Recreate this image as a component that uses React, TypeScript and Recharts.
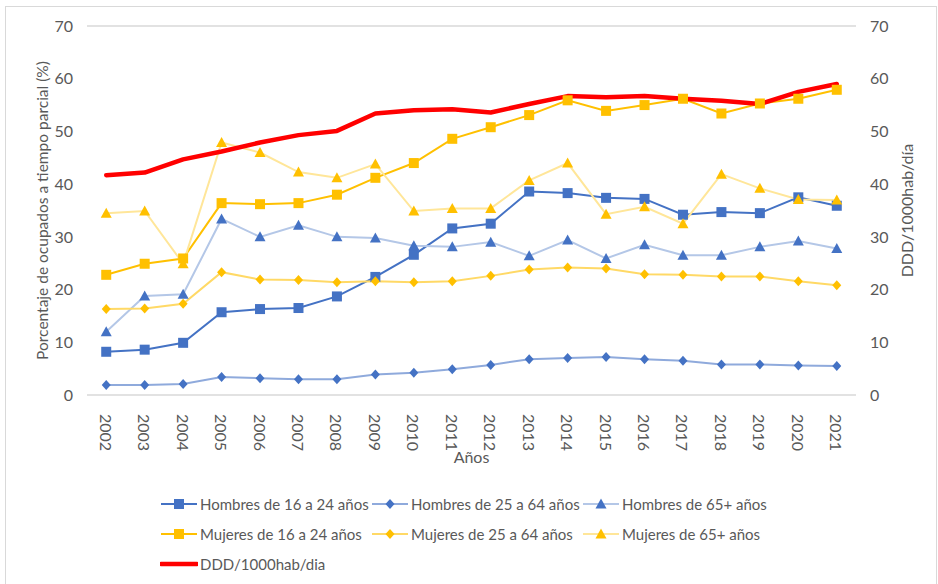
import React from 'react';
import { LineChart, Line, XAxis, YAxis, CartesianGrid, Legend, Label } from 'recharts';

const years = ['2002','2003','2004','2005','2006','2007','2008','2009','2010','2011','2012','2013','2014','2015','2016','2017','2018','2019','2020','2021'];
const hombres1624 = [8.2,8.6,9.9,15.7,16.3,16.5,18.7,22.4,26.6,31.6,32.5,38.6,38.3,37.4,37.2,34.2,34.7,34.5,37.5,35.9];
const hombres2564 = [1.9,1.9,2.1,3.4,3.2,3.0,3.0,3.9,4.2,4.9,5.7,6.8,7.0,7.2,6.8,6.5,5.8,5.8,5.6,5.5];
const hombres65 = [12.0,18.8,19.1,33.4,30.0,32.2,30.0,29.8,28.3,28.1,29.0,26.4,29.4,25.9,28.5,26.5,26.5,28.1,29.2,27.8];
const mujeres1624 = [22.8,24.9,25.9,36.4,36.2,36.4,38.0,41.2,44.0,48.6,50.8,53.1,55.9,53.9,55.0,56.2,53.4,55.3,56.2,57.9];
const mujeres2564 = [16.3,16.4,17.3,23.3,21.9,21.8,21.4,21.6,21.4,21.6,22.6,23.8,24.2,24.0,22.9,22.8,22.5,22.5,21.6,20.8];
const mujeres65 = [34.5,34.9,24.9,47.9,46.0,42.3,41.2,43.8,34.9,35.4,35.4,40.7,44.0,34.3,35.7,32.5,41.9,39.2,37.1,37.0];
const ddd = [41.7,42.2,44.7,46.2,47.9,49.3,50.1,53.4,54.0,54.2,53.6,55.2,56.7,56.5,56.7,56.2,55.8,55.2,57.5,59.0];
const yTicks = [0,10,20,30,40,50,60,70];

const data = years.map((y, i) => ({
  year: y,
  h1624: hombres1624[i],
  h2564: hombres2564[i],
  h65: hombres65[i],
  m1624: mujeres1624[i],
  m2564: mujeres2564[i],
  m65: mujeres65[i],
  ddd: ddd[i],
}));

const BLUE = '#4472C4';
const YELLOW = '#FFC000';
const TEXT = '#595959';
const FONT = 'Lato, "Open Sans", sans-serif';
const FS = 15;

type Shape = 'square' | 'diamond' | 'triangle' | 'none';

const markerEl = (shape: Shape, cx: number, cy: number, color: string, key?: any) => {
  if (shape === 'square') return <rect key={key} x={cx - 5} y={cy - 5} width={10} height={10} fill={color} />;
  if (shape === 'diamond') return <polygon key={key} points={`${cx},${cy - 5} ${cx + 4.5},${cy} ${cx},${cy + 5} ${cx - 4.5},${cy}`} fill={color} />;
  if (shape === 'triangle') return <polygon key={key} points={`${cx},${cy - 5.5} ${cx + 5.5},${cy + 4.5} ${cx - 5.5},${cy + 4.5}`} fill={color} />;
  return null;
};

const makeDot = (shape: Shape, color: string) => (props: any) => {
  const { cx, cy, index } = props;
  if (cx == null || cy == null) return <g key={index} />;
  return <g key={index}>{markerEl(shape, cx, cy, color)}</g>;
};

const series = [
  { key: 'h1624', name: 'Hombres de 16 a 24 años', line: BLUE, marker: BLUE, shape: 'square' as Shape, width: 2 },
  { key: 'h2564', name: 'Hombres de 25 a 64 años', line: '#8FAADC', marker: BLUE, shape: 'diamond' as Shape, width: 2 },
  { key: 'h65', name: 'Hombres de 65+ años', line: '#B4C7E7', marker: BLUE, shape: 'triangle' as Shape, width: 2 },
  { key: 'm1624', name: 'Mujeres de 16 a 24 años', line: YELLOW, marker: YELLOW, shape: 'square' as Shape, width: 2 },
  { key: 'm2564', name: 'Mujeres de 25 a 64 años', line: '#FFD966', marker: YELLOW, shape: 'diamond' as Shape, width: 2 },
  { key: 'm65', name: 'Mujeres de 65+ años', line: '#FFE699', marker: YELLOW, shape: 'triangle' as Shape, width: 2 },
];

const XTick = (props: any) => {
  const { x, y, payload } = props;
  return (
    <text transform={`translate(${x},${y + 11}) rotate(90)`} textAnchor="start" dominantBaseline="central"
      fill={TEXT} fontSize={FS + 1} fontFamily={FONT}>{payload.value}</text>
  );
};

const LegendContent = () => {
  const colX = [160, 371, 582];
  const rowY = [504, 534, 564];
  const items = [
    ...series.map((s, i) => ({ ...s, col: i % 3, row: Math.floor(i / 3), thick: false })),
    { key: 'ddd', name: 'DDD/1000hab/dia', line: '#FF0000', marker: '#FF0000', shape: 'none' as Shape, width: 4.5, col: 0, row: 2, thick: true },
  ];
  return (
    <div style={{ position: 'relative', width: 938, height: 584 }}>
      {items.map((it) => (
        <div key={it.key} style={{ position: 'absolute', left: colX[it.col], top: rowY[it.row] - 12, height: 24, display: 'flex', alignItems: 'center' }}>
          <svg width={38} height={24} style={{ display: 'block' }}>
            <line x1={1} y1={12} x2={37} y2={12} stroke={it.line} strokeWidth={it.width} strokeLinecap={it.thick ? 'round' : 'butt'} />
            {markerEl(it.shape, 19, 12, it.marker)}
          </svg>
          <span style={{ marginLeft: 2, fontFamily: FONT, fontSize: FS, color: TEXT, whiteSpace: 'nowrap' }}>{it.name}</span>
        </div>
      ))}
    </div>
  );
};

export default function App() {
  return (
    <div style={{ position: 'absolute', left: 0, top: 0, width: 938, height: 584, overflow: 'hidden', background: '#fff' }}>
      <div style={{ position: 'absolute', left: 5, top: 6, width: 930, height: 600, border: '1.5px solid #D9D9D9' }} />
      <div style={{ position: 'absolute', left: 0, top: 0 }}>
        <LineChart width={938} height={584} data={data} margin={{ top: 26, right: 0, left: 0, bottom: 129 }}>
          <CartesianGrid vertical={false} stroke="#D9D9D9" strokeWidth={1.3} />
          <XAxis dataKey="year" scale="band" height={60} tickLine={false} axisLine={false} tick={<XTick />} interval={0}>
            <Label content={() => (
              <text x={471.5} y={456} textAnchor="middle" dominantBaseline="central" fill={TEXT} fontSize={FS + 1} fontFamily={FONT}>Años</text>
            )} />
          </XAxis>
          <YAxis yAxisId="left" orientation="left" width={87} domain={[0, 70]} ticks={yTicks} tickLine={false} axisLine={false}
            tickSize={0} tickMargin={14} tick={{ fill: TEXT, fontSize: FS + 1, fontFamily: FONT }}>
            <Label content={() => (
              <text x={42} y={210.5} transform="rotate(-90 42 210.5)" textAnchor="middle" dominantBaseline="central" fill={TEXT} fontSize={FS + 0.5} fontFamily={FONT}>Porcentaje de ocupados a tiempo parcial (%)</text>
            )} />
          </YAxis>
          <YAxis yAxisId="right" orientation="right" width={82} domain={[0, 70]} ticks={yTicks} tickLine={false} axisLine={false}
            tickSize={0} tickMargin={14} tick={{ fill: TEXT, fontSize: FS + 1, fontFamily: FONT, textAnchor: 'start' }}>
            <Label content={() => (
              <text x={906} y={210.5} transform="rotate(-90 906 210.5)" textAnchor="middle" dominantBaseline="central" fill={TEXT} fontSize={FS + 1} fontFamily={FONT}>DDD/1000hab/día</text>
            )} />
          </YAxis>
          <Legend layout="horizontal" verticalAlign="middle" align="center" content={<LegendContent />}
            wrapperStyle={{ position: 'absolute', left: 0, top: 0, width: 938, height: 584, pointerEvents: 'none' }} />
          {series.map((s) => (
            <Line key={s.key} yAxisId="left" type="linear" dataKey={s.key} name={s.name} stroke={s.line} strokeWidth={s.width}
              dot={makeDot(s.shape, s.marker)} activeDot={false} isAnimationActive={false} />
          ))}
          <Line yAxisId="right" type="linear" dataKey="ddd" name="DDD/1000hab/dia" stroke="#FF0000" strokeWidth={4.5}
            strokeLinejoin="round" strokeLinecap="round" dot={false} activeDot={false} isAnimationActive={false} />
        </LineChart>
      </div>
    </div>
  );
}
